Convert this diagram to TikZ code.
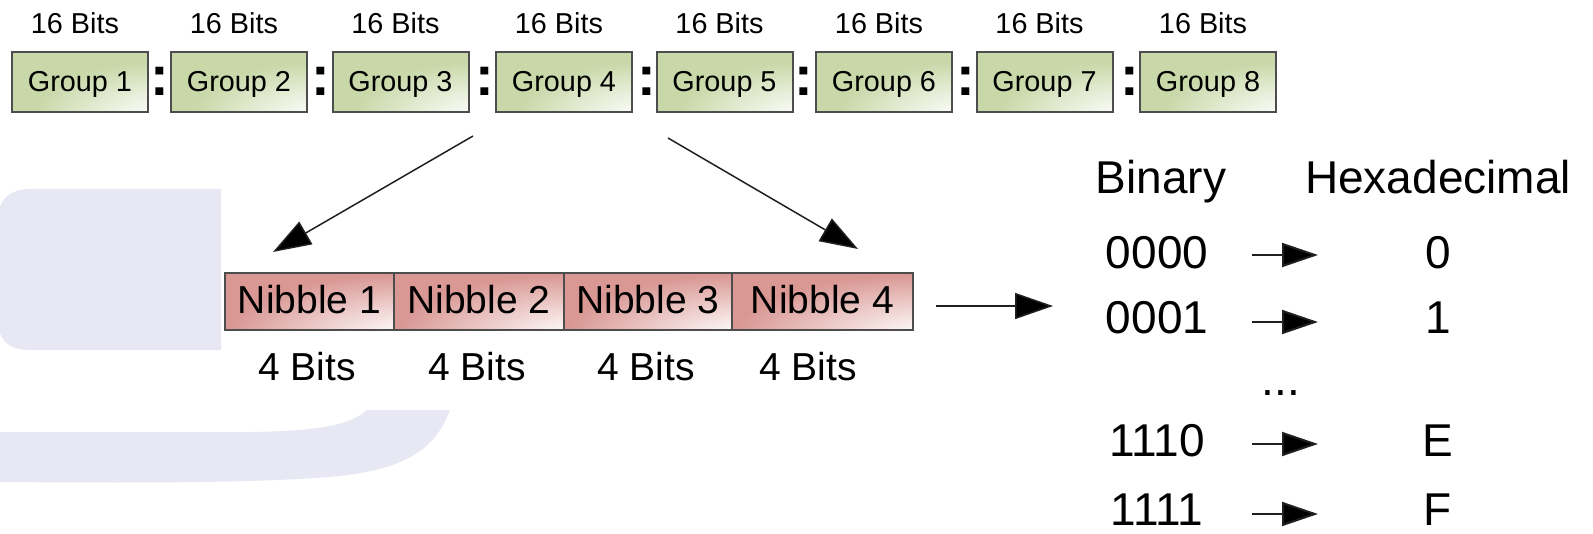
\documentclass[tikz,border=0pt]{standalone}
\usepackage{fontspec}
\setmainfont{Liberation Sans}
\usetikzlibrary{arrows.meta}

\definecolor{grpfill}{HTML}{C8D8A8}
\definecolor{nibfill}{HTML}{D99894}
\definecolor{wmark}{HTML}{E8E8F5}
\definecolor{edgecol}{HTML}{4D4D4D}
\definecolor{arrcol}{HTML}{202020}

% fills that fade to white towards the lower right corner
\pgfdeclareradialshading{grpshade}{\pgfpoint{40bp}{-40bp}}{%
  color(0bp)=(white); color(12bp)=(white); color(45bp)=(grpfill); color(150bp)=(grpfill)}
\pgfdeclareradialshading{nibshade}{\pgfpoint{40bp}{-40bp}}{%
  color(0bp)=(white); color(12bp)=(white); color(50bp)=(nibfill); color(150bp)=(nibfill)}

\newcommand\fsgrp{\fontsize{14.4pt}{17pt}\selectfont}
\newcommand\fsnib{\fontsize{19.5pt}{22pt}\selectfont}
\newcommand\fstab{\fontsize{23pt}{27pt}\selectfont}
\newcommand\fscolon{\fontsize{28pt}{30pt}\selectfont\bfseries}

\begin{document}
\begin{tikzpicture}[x=0.5pt, y=-0.5pt,
  every node/.style={inner sep=0pt, outer sep=0pt},
  grp/.style={draw=edgecol, line width=1pt, shade, shading=grpshade,
    minimum width=68pt, minimum height=30pt, text height=10pt, text depth=0pt, font=\fsgrp},
  nib/.style={draw=edgecol, line width=1pt, shade, shading=nibshade,
    minimum height=28.5pt, text height=11.5pt, text depth=0pt, font=\fsnib},
  bitlbl/.style={anchor=base, font=\fsgrp},
  niblbl/.style={anchor=base, font=\fsnib},
  tab/.style={anchor=base, font=\fstab},
  sep/.style={anchor=base, font=\fscolon},
  bigarrow/.style={draw=arrcol, line width=0.75pt, -{Triangle[length=19pt, width=13pt, fill=black]}},
  maparrow/.style={draw=arrcol, line width=1pt, -{Triangle[length=18pt, width=12pt, fill=black]}}]

\useasboundingbox (0,0) rectangle (1593,534);

% watermark shapes in the background
\fill[wmark] (221,189) -- (221,350) -- (30,350)
  .. controls (8,350) and (-2,340) .. (-2,320) -- (-2,221)
  .. controls (-2,200) and (8,189) .. (32,189) -- cycle;
\fill[wmark] (-2,432) -- (250,432) .. controls (320,431) and (350,425) .. (367,410)
  -- (450,410) .. controls (435,450) and (405,470) .. (330,477)
  .. controls (250,483) and (150,483) .. (-2,482) -- cycle;

% the eight 16-bit groups
\foreach \i/\cx in {1/80, 2/239, 3/400.5, 4/564, 5/724.5, 6/884, 7/1044.5, 8/1208} {
  \node[grp] (g\i) at (\cx,82) {Group \i};
  \node[bitlbl] (b\i) at (\cx-5,34) {16 Bits};
}
% separators
\foreach \i/\cx in {1/160, 2/321, 3/485, 4/647, 5/804, 6/966, 7/1130} {
  \node[sep] (c\i) at (\cx,96) {:};
}

% the four nibbles of one group
\node[nib, minimum width=84.5pt] (n1) at (309.5,301.5) {Nibble 1};
\node[nib, minimum width=85pt]   (n2) at (479,301.5)   {Nibble 2};
\node[nib, minimum width=84pt]   (n3) at (648,301.5)   {Nibble 3};
\node[nib, minimum width=90.5pt] (n4) at (822.5,301.5) {Nibble 4};
\foreach \i/\cx in {1/307, 2/477, 3/646, 4/808} {
  \node[niblbl] (nb\i) at (\cx,380) {4 Bits};
}

% expansion arrows
\coordinate (e1s) at (473,136);
\coordinate (e1e) at (273,252);
\coordinate (e2s) at (668,138);
\coordinate (e2e) at (858,249);
\draw[bigarrow] (e1s) -- (e1e);
\draw[bigarrow] (e2s) -- (e2e);
\coordinate (ms) at (936,306);
\coordinate (me) at (1053,306);
\draw[bigarrow] (ms) -- (me);

% conversion table
\node[tab] (hb) at (1161,193) {Binary};
\node[tab] (hh) at (1438,193) {Hexadecimal};
\node[tab] (r0) at (1157,268) {0000};
\node[tab] (r1) at (1157,333) {0001};
\node[tab] (rd) at (1281,395) {...};
\node[tab] (r2) at (1157,456) {1110};
\node[tab] (r3) at (1157,525) {1111};
\node[tab] (h0) at (1438,268) {0};
\node[tab] (h1) at (1438,333) {1};
\node[tab] (h2) at (1438,456) {E};
\node[tab] (h3) at (1438,525) {F};
\foreach \k/\ay in {0/255, 1/322, 2/444, 3/514} {
  \coordinate (a\k s) at (1252,\ay);
  \coordinate (a\k e) at (1318,\ay);
  \draw[maparrow] (a\k s) -- (a\k e);
}
\end{tikzpicture}
\end{document}
